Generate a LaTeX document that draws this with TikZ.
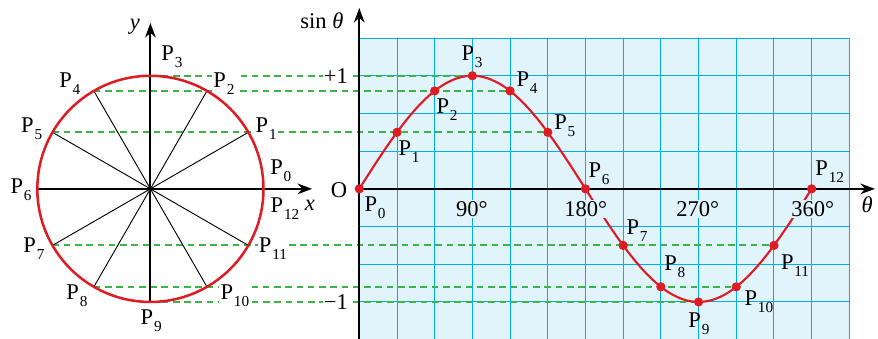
\documentclass[tikz,border=0pt]{standalone}
\usepackage{fontspec}
\setmainfont{Liberation Serif}
\usepackage{xcolor}
\usepackage{tikz}
\usetikzlibrary{arrows.meta,positioning,calc}

\definecolor{circred}{RGB}{221,28,36}
\definecolor{gridblue}{RGB}{0,172,236}
\definecolor{gridbg}{RGB}{225,243,251}
\definecolor{dashgreen}{RGB}{57,181,74}
\newcommand{\Pn}[1]{P\kern0.6pt\raisebox{-5pt}{\fontsize{11.5}{12}\selectfont #1}}

\begin{document}
\begin{tikzpicture}[
    font=\fontsize{17}{20}\selectfont,
    axis/.style={line width=1.5pt, -{Stealth[length=11pt,width=8pt]}},
    spoke/.style={line width=0.7pt},
    guide/.style={dashgreen, line width=1.4pt, dash pattern=on 5pt off 3.5pt},
    redline/.style={circred, line width=1.6pt},
    dot/.style={circle, fill=circred, inner sep=0pt, minimum size=7pt},
    plbl/.style={inner sep=1pt},
    wlbl/.style={fill=white, inner sep=1pt},
    deg/.style={fill=gridbg, inner sep=1pt}
]
\useasboundingbox (-9.53,-3.98) rectangle (13.76,5.01);

% Grid
\fill[gridbg] (0,-4) rectangle (13,4);
\draw[gridblue, line width=0.7pt] (0,-4) grid (13,4);

% Points on circle and curve
\coordinate (ctr) at (-5.54,0);
\foreach \k in {0,...,12} {
  \coordinate (c\k) at ($(ctr)+(30*\k:3)$);
  \coordinate (g\k) at (\k,{3*sin(30*\k)});
}
\coordinate (xtip) at (-1.25,0);
\coordinate (ytip) at (-5.54,4.40);
\coordinate (O) at (0,0);
\coordinate (thtip) at (13.68,0);
\coordinate (sbot) at (0,-3.98);
\coordinate (stip) at (0,4.80);

% Guide lines
\draw[guide] (c3) -- (g3);
\draw[guide] (c4) -- (g4);
\draw[guide] (c5) -- (g5);
\draw[guide] (c7) -- (g11);
\draw[guide] (c8) -- (g10);
\draw[guide] (c9) -- (g9);

% Circle labels
\node[plbl] (ylbl) at (-5.95,4.30) {\textit{y}};
\node[plbl] (xlbl) at (-1.31,-0.45) {\textit{x}};
\node[wlbl] (cp0) at (-2.08,0.48) {\Pn{0}};
\node[wlbl] (cp1) at (-2.47,1.59) {\Pn{1}};
\node[wlbl] (cp2) at (-3.59,2.79) {\Pn{2}};
\node[wlbl] (cp3) at (-4.97,3.50) {\Pn{3}};
\node[wlbl] (cp4) at (-7.68,2.79) {\Pn{4}};
\node[wlbl] (cp5) at (-8.69,1.59) {\Pn{5}};
\node[wlbl] (cp6) at (-8.97,-0.03) {\Pn{6}};
\node[wlbl] (cp7) at (-8.63,-1.59) {\Pn{7}};
\node[wlbl] (cp8) at (-7.49,-2.84) {\Pn{8}};
\node[wlbl] (cp9) at (-5.52,-3.50) {\Pn{9}};
\node[wlbl] (cp10) at (-3.30,-2.84) {\Pn{10}};
\node[wlbl] (cp11) at (-2.29,-1.59) {\Pn{11}};
\node[plbl] (cp12) at (-1.97,-0.53) {\Pn{12}};

% Circle
\foreach \k in {1,2,4,5,7,8,10,11} {
  \draw[spoke] (ctr) -- (c\k);
}
\draw[axis] (c6) -- (xtip);
\draw[axis] (c9) -- (ytip);
\draw[redline, line width=1.9pt] (ctr) circle (3);

% Graph
\draw[axis] (O) -- (thtip);
\draw[axis] (sbot) -- (stip);
\draw[redline] plot[domain=0:360, samples=73, smooth] ({\x/30},{3*sin(\x)});
\foreach \k in {0,...,12} {
  \node[dot] (d\k) at (g\k) {};
}

% Graph labels
\node[wlbl] (olbl) at (-0.54,-0.03) {O};
\node[wlbl] (plus) at (-0.62,3.0) {+1};
\node[wlbl] (minus) at (-0.62,-3.0) {−1};
\node[plbl] (sinlbl) at (-0.99,4.46) {sin \textit{θ}};
\node[plbl] (thlbl) at (13.47,-0.42) {\textit{θ}};
\node[deg] (d90) at (2.99,-0.53) {90°};
\node[deg] (d180) at (6.01,-0.53) {180°};
\node[deg] (d270) at (8.98,-0.53) {270°};
\node[deg] (d360) at (12.03,-0.53) {360°};
\node[plbl] (gp0) at (0.42,-0.50) {\Pn{0}};
\node[plbl] (gp1) at (1.32,0.98) {\Pn{1}};
\node[plbl] (gp2) at (2.33,2.10) {\Pn{2}};
\node[plbl] (gp3) at (2.99,3.50) {\Pn{3}};
\node[plbl] (gp4) at (4.45,2.81) {\Pn{4}};
\node[plbl] (gp5) at (5.45,1.67) {\Pn{5}};
\node[plbl] (gp6) at (6.36,0.40) {\Pn{6}};
\node[plbl] (gp7) at (7.37,-1.11) {\Pn{7}};
\node[plbl] (gp8) at (8.37,-2.07) {\Pn{8}};
\node[plbl] (gp9) at (9.01,-3.58) {\Pn{9}};
\node[plbl] (gp10) at (10.60,-3.00) {\Pn{10}};
\node[plbl] (gp11) at (11.56,-2.04) {\Pn{11}};
\node[plbl] (gp12) at (12.48,0.45) {\Pn{12}};

\end{tikzpicture}
\end{document}
